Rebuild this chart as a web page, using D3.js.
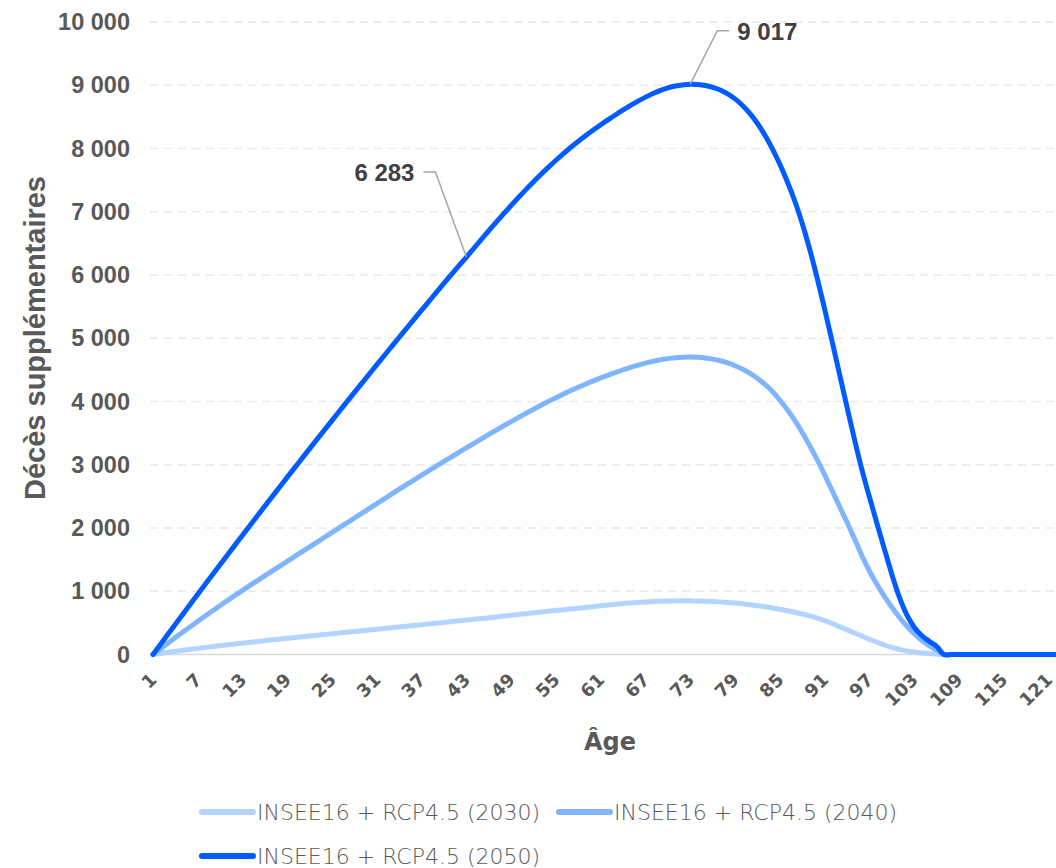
<!DOCTYPE html>
<html lang="fr">
<head>
<meta charset="utf-8">
<script src="https://cdn.jsdelivr.net/npm/d3@7"></script>
<style>
  html, body { margin: 0; padding: 0; background: #ffffff; }
  svg { display: block; }
</style>
</head>
<body>
<svg id="chart" width="1056" height="868"></svg>
<script>
// Âges (catégories de l'axe horizontal)
const ages = d3.range(1, 123);
const ageTicks = [1, 7, 13, 19, 25, 31, 37, 43, 49, 55, 61, 67, 73, 79, 85, 91, 97, 103, 109, 115, 121];
const yTicks = [0, 1000, 2000, 3000, 4000, 5000, 6000, 7000, 8000, 9000, 10000];

// Décès supplémentaires par âge
const deces2030 = [
  0, 17, 34, 50, 66, 81, 96, 111, 125, 139,
  153, 167, 180, 193, 206, 219, 232, 244, 256, 268,
  280, 292, 304, 316, 328, 340, 352, 364, 376, 388,
  400, 412, 424, 436, 448, 460, 472, 484, 496, 508,
  520, 532, 544, 556, 568, 581, 594, 607, 620, 633,
  646, 659, 672, 684, 696, 708, 720, 732, 744, 757,
  770, 782, 794, 805, 815, 824, 831, 837, 842, 845,
  847, 848, 848, 846, 843, 838, 832, 824, 814, 802,
  788, 772, 755, 736, 715, 692, 667, 640, 610, 575,
  535, 490, 440, 390, 340, 290, 240, 195, 150, 112,
  80, 56, 38, 25, 15, 7, 0, 0, 0, 0,
  0, 0, 0, 0, 0, 0, 0, 0, 0, 0,
  0, 0
];
const deces2040 = [
  0, 90, 179, 267, 354, 440, 525, 609, 692, 774,
  855, 935, 1014, 1092, 1169, 1246, 1322, 1398, 1474, 1550,
  1626, 1702, 1778, 1854, 1930, 2006, 2082, 2158, 2234, 2310,
  2386, 2462, 2538, 2614, 2688, 2762, 2835, 2908, 2981, 3053,
  3125, 3197, 3268, 3339, 3409, 3479, 3548, 3616, 3683, 3749,
  3814, 3878, 3941, 4002, 4061, 4118, 4173, 4226, 4277, 4326,
  4373, 4418, 4461, 4502, 4540, 4575, 4607, 4635, 4659, 4678,
  4692, 4700, 4703, 4698, 4688, 4670, 4645, 4610, 4565, 4510,
  4445, 4365, 4270, 4160, 4020, 3870, 3700, 3510, 3300, 3080,
  2840, 2590, 2340, 2090, 1830, 1560, 1320, 1110, 920, 750,
  590, 450, 330, 225, 140, 70, 0, 0, 0, 0,
  0, 0, 0, 0, 0, 0, 0, 0, 0, 0,
  0, 0
];
const deces2050 = [
  0, 160, 320, 479, 637, 795, 953, 1110, 1266, 1422,
  1578, 1733, 1887, 2041, 2195, 2348, 2500, 2652, 2804, 2955,
  3105, 3255, 3405, 3554, 3702, 3850, 3998, 4145, 4291, 4437,
  4583, 4728, 4872, 5016, 5160, 5303, 5445, 5587, 5729, 5870,
  6010, 6148, 6283, 6423, 6562, 6700, 6836, 6970, 7101, 7229,
  7354, 7475, 7592, 7705, 7814, 7919, 8020, 8115, 8205, 8291,
  8375, 8456, 8534, 8609, 8681, 8749, 8812, 8869, 8918, 8958,
  8987, 9005, 9017, 9012, 8995, 8965, 8925, 8865, 8785, 8680,
  8550, 8395, 8210, 7995, 7750, 7475, 7170, 6815, 6405, 5950,
  5460, 4950, 4430, 3910, 3400, 2920, 2490, 2075, 1670, 1270,
  910, 630, 430, 300, 210, 130, 0, 0, 0, 0,
  0, 0, 0, 0, 0, 0, 0, 0, 0, 0,
  0, 0
];

const seriesNames = ["INSEE16 + RCP4.5 (2030)", "INSEE16 + RCP4.5 (2040)", "INSEE16 + RCP4.5 (2050)"];
const seriesColors = ["#b3d4ff", "#7fb4ff", "#005cff"];
const seriesValues = [deces2030, deces2040, deces2050];

// Étiquettes de valeurs sur la courbe 2050 (âge annoté)
const annotatedAges = [43, 73];

const svg = d3.select("#chart");
const x = d3.scaleLinear().domain([1, 122]).range([153, 1056]);
const y = d3.scaleLinear().domain([0, 10000]).range([654.5, 22]);
const fmt = d3.formatLocale({ decimal: ",", thousands: " ", grouping: [3], currency: ["", " €"] }).format(",d");

svg.append("rect").attr("width", 1056).attr("height", 868).attr("fill", "#ffffff");

// Quadrillage horizontal en pointillés
svg.append("g")
  .selectAll("line")
  .data(yTicks.filter(d => d > 0))
  .join("line")
  .attr("x1", 150).attr("x2", 1056)
  .attr("y1", d => y(d)).attr("y2", d => y(d))
  .attr("stroke", "#e9e9e9").attr("stroke-width", 1.5)
  .attr("stroke-dasharray", "8,6");

// Axe vertical (étiquettes uniquement)
const yAxis = svg.append("g")
  .attr("transform", "translate(130,0)")
  .call(d3.axisLeft(y).tickValues(yTicks).tickFormat(fmt).tickSize(0).tickPadding(0));
yAxis.select(".domain").remove();
yAxis.selectAll("text")
  .attr("font-family", "'Liberation Sans', Arial, sans-serif")
  .attr("font-weight", "bold")
  .attr("font-size", "23.5px")
  .attr("fill", "#595959");

// Ligne de base
svg.append("line")
  .attr("x1", x(1)).attr("x2", 1056)
  .attr("y1", y(0)).attr("y2", y(0))
  .attr("stroke", "#d9d9d9").attr("stroke-width", 1.5);

// Axe horizontal : étiquettes inclinées
const xAxis = svg.append("g")
  .attr("transform", `translate(0,${y(0)})`)
  .call(d3.axisBottom(x).tickValues(ageTicks).tickFormat(d3.format("d")).tickSize(0).tickPadding(0));
xAxis.select(".domain").remove();
xAxis.selectAll("text")
  .attr("font-family", "'DejaVu Sans', sans-serif")
  .attr("font-weight", 700)
  .attr("font-size", "18px")
  .attr("fill", "#595959")
  .attr("text-anchor", "end")
  .attr("dy", "0.35em")
  .attr("y", 0)
  .attr("transform", "translate(0,22) rotate(-45)");

// Titres des axes
svg.append("text")
  .attr("x", 610).attr("y", 742)
  .attr("dy", "0.35em")
  .attr("text-anchor", "middle")
  .attr("font-family", "'DejaVu Sans', sans-serif")
  .attr("font-weight", 700)
  .attr("font-size", "24px")
  .attr("fill", "#595959")
  .text("Âge");

svg.append("text")
  .attr("transform", "translate(35,338) rotate(-90)")
  .attr("dy", "0.35em")
  .attr("text-anchor", "middle")
  .attr("font-family", "'Liberation Sans', Arial, sans-serif")
  .attr("font-weight", "bold")
  .attr("font-size", "29px")
  .attr("fill", "#595959")
  .text("Décès supplémentaires");

// Courbes lissées
const line = d3.line()
  .x((d, i) => x(ages[i]))
  .y(d => y(d))
  .curve(d3.curveCatmullRom.alpha(0.5));

svg.append("g")
  .selectAll("path")
  .data(seriesValues)
  .join("path")
  .attr("d", d => line(d))
  .attr("fill", "none")
  .attr("stroke", (d, i) => seriesColors[i])
  .attr("stroke-width", 5)
  .attr("stroke-linejoin", "round")
  .attr("stroke-linecap", "round");

// Annotations de valeurs
const labelFont = "'Liberation Sans', Arial, sans-serif";
function annotate(age, side) {
  const v = deces2050[ages.indexOf(age)];
  const px = x(age), py = y(v);
  const g = svg.append("g");
  if (side === "left") {
    g.append("path")
      .attr("d", `M${px},${py} L${px - 31},${py - 85} L${px - 43},${py - 85}`)
      .attr("fill", "none").attr("stroke", "#a6a6a6").attr("stroke-width", 1.5);
    g.append("text")
      .attr("x", px - 52).attr("y", py - 85).attr("dy", "0.35em")
      .attr("text-anchor", "end")
      .attr("font-family", labelFont).attr("font-weight", "bold")
      .attr("font-size", "24px").attr("fill", "#404040")
      .text(fmt(v));
  } else {
    g.append("path")
      .attr("d", `M${px},${py} L${px + 27},${py - 53.5} L${px + 39},${py - 53.5}`)
      .attr("fill", "none").attr("stroke", "#a6a6a6").attr("stroke-width", 1.5);
    g.append("text")
      .attr("x", px + 47).attr("y", py - 53).attr("dy", "0.35em")
      .attr("text-anchor", "start")
      .attr("font-family", labelFont).attr("font-weight", "bold")
      .attr("font-size", "24px").attr("fill", "#404040")
      .text(fmt(v));
  }
}
annotate(annotatedAges[0], "left");
annotate(annotatedAges[1], "right");

// Légende
const legendPos = [[200, 812], [557, 812], [200, 856]];
const legend = svg.append("g")
  .selectAll("g")
  .data(seriesNames)
  .join("g")
  .attr("transform", (d, i) => `translate(${legendPos[i][0]},${legendPos[i][1]})`);
legend.append("line")
  .attr("x1", 2).attr("x2", 53).attr("y1", 0).attr("y2", 0)
  .attr("stroke", (d, i) => seriesColors[i])
  .attr("stroke-width", 6).attr("stroke-linecap", "round");
legend.append("text")
  .attr("x", 57).attr("y", 0).attr("dy", "0.35em")
  .attr("font-family", "'DejaVu Sans', sans-serif")
  .attr("font-weight", 200)
  .attr("font-size", "22px")
  .attr("fill", "#595959")
  .text(d => d);
</script>
</body>
</html>
